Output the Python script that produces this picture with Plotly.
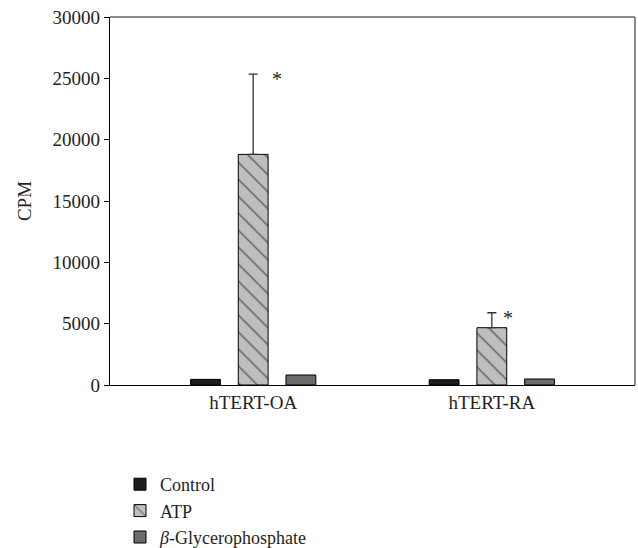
import plotly.graph_objects as go

categories = ["hTERT-OA", "hTERT-RA"]
series_names = ["Control", "ATP", "<i>β</i>-Glycerophosphate"]
control_vals = [460, 430]
atp_vals = [18800, 4670]
atp_err = [6550, 1220]
glycero_vals = [815, 490]
y_ticks = [0, 5000, 10000, 15000, 20000, 25000, 30000]
star_labels = ["*", "*"]

FONT = "Liberation Serif, Times New Roman, serif"
TXT = "#231f20"

fig = go.Figure()
fig.add_trace(go.Bar(
    x=categories, y=control_vals, name=series_names[0],
    marker=dict(color="#1c1c1c", line=dict(color="#000000", width=1)),
))
fig.add_trace(go.Bar(
    x=categories, y=atp_vals, name=series_names[1],
    marker=dict(color="#bdbec0", line=dict(color="#000000", width=1),
                pattern=dict(shape="\\", size=12, solidity=0.12,
                             fgcolor="#000000", bgcolor="#bdbec0", fillmode="overlay")),
    error_y=dict(type="data", array=atp_err, arrayminus=[0, 0], symmetric=False,
                 color="#333333", thickness=1.3, width=4.5),
))
fig.add_trace(go.Bar(
    x=categories, y=glycero_vals, name=series_names[2],
    marker=dict(color="#6b6b6b", line=dict(color="#000000", width=1)),
))

shifts = [24, 16]
for i, cat in enumerate(categories):
    fig.add_annotation(x=cat, y=atp_vals[i] + atp_err[i], text=star_labels[i],
                       showarrow=False, xshift=shifts[i], yshift=-5,
                       font=dict(family=FONT, size=20, color=TXT))

# top and right frame lines (gray)
fig.add_shape(type="line", xref="paper", yref="paper", x0=0, x1=1, y0=1, y1=1,
              line=dict(color="#666666", width=1.5))
fig.add_shape(type="line", xref="paper", yref="paper", x0=1, x1=1, y0=0, y1=1,
              line=dict(color="#666666", width=1.5))

fig.update_layout(
    width=638, height=548,
    margin=dict(l=110, r=3, t=17, b=163, autoexpand=False),
    paper_bgcolor="white", plot_bgcolor="white",
    barmode="group", bargap=0.4, bargroupgap=0.375,
    font=dict(family=FONT, size=19, color=TXT),
    showlegend=True,
    legend=dict(x=10 / 525, y=(385 - 466) / 368, xanchor="left", yanchor="top",
                font=dict(family=FONT, size=18, color=TXT),
                bgcolor="rgba(0,0,0,0)", tracegroupgap=0),
    xaxis=dict(range=[-0.6, 1.6], showline=True, linecolor="#000000", linewidth=1.3,
               ticks="", showgrid=False, zeroline=False, automargin=False,
               tickfont=dict(family=FONT, size=19, color=TXT)),
    yaxis=dict(range=[0, 30000], tickvals=y_ticks, ticktext=[str(v) for v in y_ticks],
               showline=True, linecolor="#000000", linewidth=1.3,
               ticks="outside", ticklen=5, tickcolor="#000000", tickwidth=1.2,
               showgrid=False, zeroline=False, automargin=False,
               title=dict(text="CPM", font=dict(family=FONT, size=19, color=TXT)),
               tickfont=dict(family=FONT, size=19, color=TXT)),
)

fig.write_html("out.html")
